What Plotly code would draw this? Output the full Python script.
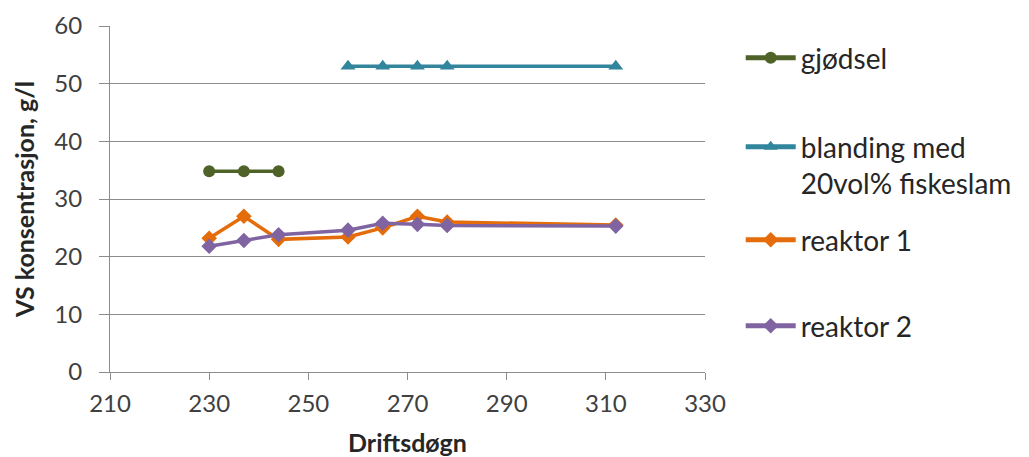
import plotly.graph_objects as go

# Driftsdøgn (days of operation) and VS concentration, g/l
dager_gjodsel = [230, 237, 244]
gjodsel = [34.8, 34.8, 34.8]

dager_blanding = [258, 265, 272, 278, 312]
blanding = [53, 53, 53, 53, 53]

dager_reaktor = [230, 237, 244, 258, 265, 272, 278, 312]
reaktor1 = [23.2, 27.0, 23.0, 23.4, 25.0, 27.0, 26.0, 25.5]
reaktor2 = [21.8, 22.8, 23.8, 24.6, 25.8, 25.6, 25.4, 25.3]

x_ticks = [210, 230, 250, 270, 290, 310, 330]
y_ticks = [0, 10, 20, 30, 40, 50, 60]

FONT = "Lato, 'Open Sans', sans-serif"
GRID = "#8c8c8c"

fig = go.Figure()

fig.add_trace(go.Scatter(
    x=dager_gjodsel, y=gjodsel, name="gjødsel", mode="lines+markers",
    line=dict(color="#4f6228", width=3.5),
    marker=dict(symbol="circle", size=12, color="#4f6228"),
    legend="legend",
))
fig.add_trace(go.Scatter(
    x=dager_blanding, y=blanding, name="blanding med<br>20vol% fiskeslam",
    mode="lines+markers",
    line=dict(color="#31859c", width=3.5),
    marker=dict(symbol="triangle-up", size=13, color="#31859c"),
    legend="legend2",
))
fig.add_trace(go.Scatter(
    x=dager_reaktor, y=reaktor1, name="reaktor 1", mode="lines+markers",
    line=dict(color="#e46c0a", width=3.5),
    marker=dict(symbol="diamond", size=12, color="#e46c0a"),
    legend="legend3",
))
fig.add_trace(go.Scatter(
    x=dager_reaktor, y=reaktor2, name="reaktor 2", mode="lines+markers",
    line=dict(color="#8064a2", width=3.5),
    marker=dict(symbol="diamond", size=12, color="#8064a2"),
    legend="legend4",
))

# plot area spans pixels 110..705 horizontally and 26..372 vertically
def py(pix):
    return (372 - pix) / (372 - 26)

leg_common = dict(
    x=1.06, xanchor="left", bgcolor="rgba(0,0,0,0)",
    font=dict(family=FONT, size=28, color="#262626"),
    itemwidth=50, itemsizing="constant",
)

fig.update_layout(
    width=1029, height=457,
    margin=dict(l=110, r=324, t=26, b=85),
    paper_bgcolor="white", plot_bgcolor="white",
    font=dict(family=FONT, color="#404040"),
    showlegend=True,
    legend=dict(**leg_common, y=py(58), yanchor="middle"),
    legend2=dict(**leg_common, y=py(122), yanchor="top", valign="top"),
    legend3=dict(**leg_common, y=py(240), yanchor="middle"),
    legend4=dict(**leg_common, y=py(326), yanchor="middle"),
    xaxis=dict(
        range=[210, 330], tickvals=x_ticks, ticktext=[str(v) for v in x_ticks],
        automargin=False,
        showgrid=False, zeroline=False,
        showline=True, linecolor=GRID, linewidth=1,
        ticks="outside", ticklen=7, tickcolor=GRID,
        ticklabelstandoff=3,
        tickfont=dict(family=FONT, size=24, color="#404040"),
        title=dict(text="<b>Driftsdøgn</b>", standoff=21,
                   font=dict(family=FONT, size=25, color="#262626")),
    ),
    yaxis=dict(
        range=[0, 60], tickvals=y_ticks,
        automargin=False,
        showgrid=True, gridcolor=GRID, gridwidth=1, zeroline=False,
        showline=True, linecolor=GRID, linewidth=1,
        ticks="outside", ticklen=10, tickcolor=GRID,
        ticklabelstandoff=12,
        tickfont=dict(family=FONT, size=24, color="#404040"),
        title=dict(text="<b>VS konsentrasjon, g/l</b>", standoff=12,
                   font=dict(family=FONT, size=25, color="#262626")),
    ),
)

fig.write_html("out.html")
